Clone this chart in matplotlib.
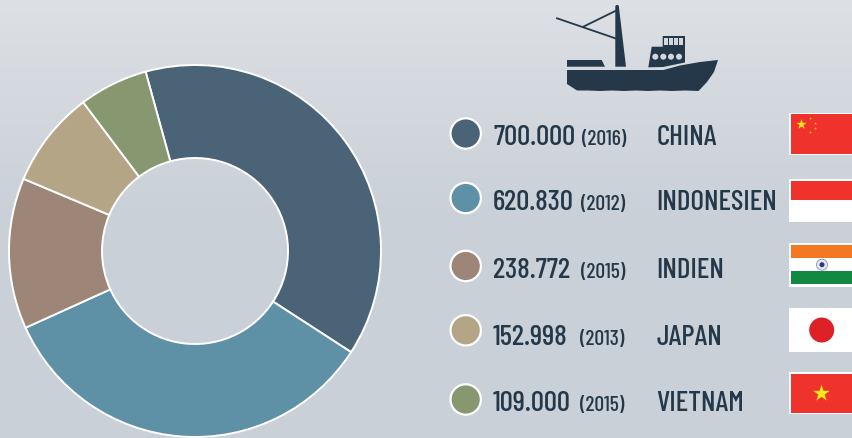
import numpy as np
import matplotlib
matplotlib.use("Agg")
import matplotlib.pyplot as plt
from matplotlib.patches import Polygon, Rectangle, Circle

countries = ["CHINA", "INDONESIEN", "INDIEN", "JAPAN", "VIETNAM"]
values = [700000, 620830, 238772, 152998, 109000]
value_labels = ["700.000", "620.830", "238.772", "152.998", "109.000"]
years = ["(2016)", "(2012)", "(2015)", "(2013)", "(2015)"]
colors = ["#4a6377", "#5f91a6", "#9d8677", "#b4a587", "#87976f"]

W, H = 852, 439
TEXT = "#24384a"
FONT = ["Barlow Condensed", "Bebas Neue", "Roboto", "DejaVu Sans"]

fig = plt.figure(figsize=(W / 100, H / 100), dpi=100)
bg = fig.add_axes([0, 0, 1, 1])
bg.axis("off")

# background gradient
top = np.array([0xdd, 0xe0, 0xe5]) / 255
mid = np.array([0xc9, 0xd0, 0xd7]) / 255
t = np.clip(np.linspace(0, 1, H + 2) / 0.5, 0, 1)[:, None, None]
grad = top[None, None, :] * (1 - t) + mid[None, None, :] * t
bg.imshow(grad, extent=[0, W, H + 1, -1], aspect="auto", zorder=0)
bg.set_xlim(0, W)
bg.set_ylim(H - 1, -1)

# donut
cx, cy, R = 195, 252, 186
pie_ax = fig.add_axes([(cx - R - 2) / W, 1 - (cy + R + 2) / H, (2 * R + 4) / W, (2 * R + 4) / H])
pie_ax.pie(values, colors=colors, startangle=105.4, counterclock=False, radius=1,
           wedgeprops=dict(width=0.5, edgecolor="white", linewidth=1.4))
pie_ax.set_xlim(-(R + 2) / R, (R + 2) / R)
pie_ax.set_ylim(-(R + 2) / R, (R + 2) / R)

# legend rows
circle_y = [133.5, 198, 266, 330.3, 399.5]
baseline = [144, 209.5, 277, 344, 410]
year_x = [582, 581, 581, 579.5, 579.5]
for i in range(5):
    bg.add_patch(Circle((465.7, circle_y[i]), 15.2, facecolor=colors[i], edgecolor="white", lw=1.6, zorder=3))
    bg.text(493, baseline[i], value_labels[i], family=FONT, fontsize=21, fontweight=500, color=TEXT, va="baseline", ha="left", zorder=3)
    bg.text(year_x[i], baseline[i], years[i], family=FONT, fontsize=15.5, fontweight=500, color=TEXT, va="baseline", ha="left", zorder=3)
    bg.text(656.5, baseline[i], countries[i], family=FONT, fontsize=21, fontweight=500, color=TEXT, va="baseline", ha="left", zorder=3)

# ship icon
SHIP = "#24384a"
hull = [(567, 70), (663.5, 70), (680, 65.5), (700, 62), (718, 60), (714, 72), (707, 82), (698.5, 91),
        (685, 90.5), (672, 91), (660, 90.5), (648, 91), (636, 90.5), (624, 91), (612, 90.5), (600, 91), (588, 90.5), (577, 90.5), (567, 84)]
deck = [(567, 60), (601.7, 60), (605, 66.7), (567, 66.7)]
mast = [(615.3, 6), (616.5, 5), (618, 5), (618.8, 6), (626, 66.7), (615.3, 66.7)]
cabin = [(651.7, 46.7), (662.7, 46.7), (662.7, 36), (685, 36), (685, 62.5), (663, 67), (648.3, 67.3)]
for pts in (hull, deck, mast, cabin):
    bg.add_patch(Polygon(pts, closed=True, facecolor=SHIP, edgecolor="none", zorder=3))
bg.plot([557, 615.3], [18.3, 38.3], color=SHIP, lw=1.3, zorder=3)
bg.plot([583.3, 615.3], [26.7, 11], color=SHIP, lw=1.3, zorder=3)
for wx in (664, 669, 674, 679):
    bg.add_patch(Rectangle((wx, 37.7), 4, 7.3, facecolor="#d4d8de", edgecolor="none", zorder=4))
for px in (655.3, 663.3, 671, 679):
    bg.add_patch(Circle((px, 56.7), 3, facecolor="#d4d8de", edgecolor="none", zorder=4))

# flags
RED = "#ef322c"
YEL = "#f7e81d"
FX, FW = 790, 64


def flag(y0, y1):
    bg.add_patch(Rectangle((FX - 1, y0), FW, y1 - y0, facecolor="white", edgecolor="none", zorder=3))


def band(y0, y1, c):
    bg.add_patch(Rectangle((FX + 1, y0), FW, y1 - y0, facecolor=c, edgecolor="none", zorder=4))


flag(112.7, 155)
band(114, 154, RED)
bg.scatter([801], [124], marker="*", s=60, color=YEL, linewidths=0, zorder=5)
bg.scatter([810, 815, 815, 810], [118, 122.5, 127.5, 132], marker="*", s=4, color=YEL, linewidths=0, zorder=5)

flag(179, 221.7)
band(181, 200, RED)

flag(243, 286.7)
band(245, 258, "#f47721")
band(271, 284, "#138843")
bg.add_patch(Circle((822, 264.7), 5.5, facecolor="#e4e6f0", edgecolor="#8d8fb8", lw=0.6, zorder=5))
bg.add_patch(Circle((822, 264.7), 2.5, facecolor="#2a3a7c", edgecolor="none", zorder=6))

flag(308, 351.7)
bg.add_patch(Circle((821.7, 330), 12.5, facecolor="#dc2127", edgecolor="none", zorder=5))

flag(371.7, 414)
band(373.5, 412.5, RED)
bg.scatter([821.3], [393], marker="*", s=160, color=YEL, linewidths=0, zorder=5)

fig.savefig("out.png", dpi=100)
